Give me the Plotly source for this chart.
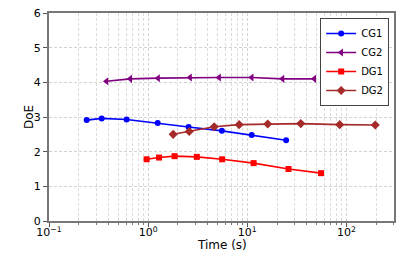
import plotly.graph_objects as go

cg1_t = [0.240, 0.340, 0.607, 1.25, 2.56, 5.55, 11.1, 24.7]
cg1_doe = [2.91, 2.96, 2.93, 2.83, 2.71, 2.60, 2.48, 2.33]

cg2_t = [0.38, 0.66, 1.26, 2.65, 5.2, 11.1, 22.7, 47.5]
cg2_doe = [4.03, 4.10, 4.12, 4.14, 4.14, 4.14, 4.10, 4.10]

dg1_t = [0.966, 1.29, 1.85, 3.10, 5.58, 11.6, 26.1, 55.6]
dg1_doe = [1.78, 1.83, 1.87, 1.85, 1.78, 1.67, 1.50, 1.38]

dg2_t = [1.79, 2.60, 4.64, 8.29, 16.1, 34.7, 85.7, 196]
dg2_doe = [2.50, 2.58, 2.72, 2.78, 2.80, 2.81, 2.78, 2.77]

x_ticks = [0.1, 1, 10, 100]
x_ticktext = ["10<sup>−1</sup>", "10<sup>0</sup>", "10<sup>1</sup>", "10<sup>2</sup>"]
y_ticks = [0, 1, 2, 3, 4, 5, 6]
x_title = "Time (s)"
y_title = "DoE"

series = [
    ("CG1", cg1_t, cg1_doe, "#0000ff", "circle", 6),
    ("CG2", cg2_t, cg2_doe, "#800080", "triangle-left", 7),
    ("DG1", dg1_t, dg1_doe, "#ff0000", "square", 6),
    ("DG2", dg2_t, dg2_doe, "#a52a2a", "diamond", 7),
]

fig = go.Figure()
for name, xs, ys, col, sym, sz in series:
    fig.add_trace(go.Scatter(
        x=xs, y=ys, name=name, mode="lines+markers",
        line=dict(color=col, width=1.6),
        marker=dict(color=col, symbol=sym, size=sz),
    ))

minor_vals = [m * 10 ** e for e in (-1, 0, 1, 2) for m in range(2, 10)]

fig.update_layout(
    width=415, height=260,
    margin=dict(l=49, r=21, t=13, b=39, autoexpand=False),
    paper_bgcolor="white", plot_bgcolor="white",
    font=dict(family="DejaVu Sans", size=11, color="black"),
    showlegend=True,
    legend=dict(
        x=0.986, y=0.976, xanchor="right", yanchor="top",
        bgcolor="white", bordercolor="#444", borderwidth=1,
        font=dict(size=10), tracegroupgap=0, itemwidth=30,
    ),
    xaxis=dict(
        type="log", range=[-1, 2.481], automargin=False,
        tickvals=x_ticks, ticktext=x_ticktext,
        ticklabelstandoff=-4,
        showgrid=True, gridcolor="#d3d3d3", griddash="3px,2px", gridwidth=0.7,
        showline=True, linecolor="#777", linewidth=2, mirror=True,
        ticks="outside", ticklen=4, tickcolor="#555",
        minor=dict(tickvals=minor_vals, showgrid=True, gridcolor="#dcdcdc",
                   griddash="3px,2px", gridwidth=0.6, ticks="outside", ticklen=2,
                   tickcolor="#777"),
        zeroline=False,
    ),
    yaxis=dict(
        range=[0, 6], tickvals=y_ticks, automargin=False,
        ticklabeloverflow="allow",
        showgrid=True, gridcolor="#d3d3d3", griddash="3px,2px", gridwidth=0.7,
        showline=True, linecolor="#777", linewidth=2, mirror=True,
        ticks="outside", ticklen=4, tickcolor="#555",
        zeroline=False,
    ),
    annotations=[
        dict(text=x_title, xref="paper", yref="paper", x=0.5, y=-0.115,
             xanchor="center", yanchor="middle", showarrow=False,
             font=dict(size=12)),
        dict(text=y_title, xref="paper", yref="paper", x=-0.058, y=0.5,
             xanchor="center", yanchor="middle", showarrow=False,
             textangle=-90, font=dict(size=12)),
    ],
)

fig.write_html("out.html", config={"displayModeBar": False},
               post_script="document.body.style.margin='0';")
